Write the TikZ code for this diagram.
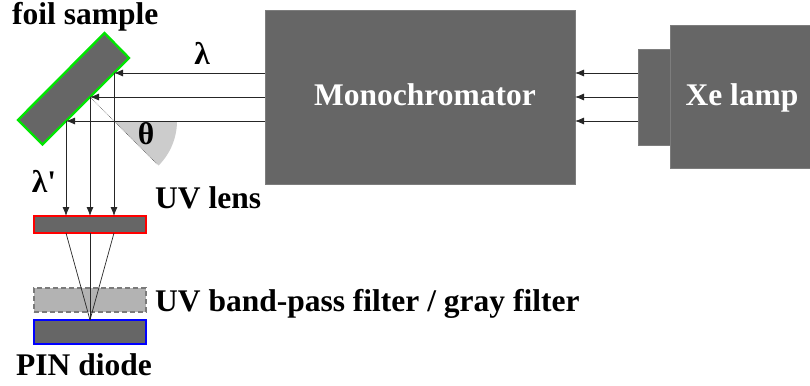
\documentclass[tikz,border=0pt]{standalone}
\usepackage{fontspec}
\setmainfont{Liberation Serif}
\newfontfamily\plainserif{Liberation Serif}
\usetikzlibrary{arrows.meta,positioning}
\definecolor{boxgray}{HTML}{666666}
\definecolor{wedgegray}{HTML}{CCCCCC}
\definecolor{filtergray}{HTML}{B3B3B3}
\definecolor{filteredge}{HTML}{7A7A7A}
\tikzset{
  x=1pt,y=-1pt,
  block/.style={fill=boxgray,draw=boxgray!85!white,line width=0.8pt,inner sep=0pt,outer sep=0pt,anchor=north west},
  plate/.style={block,minimum width=112pt,line width=2.2pt},
  ray/.style={draw=black!85,line width=0.8pt,-{Latex[length=9pt,width=7pt]}},
  rayplain/.style={draw=black!85,line width=0.7pt},
  lab/.style={font=\bfseries\fontsize{31.5}{32}\selectfont,inner sep=0pt,text=black},
  wlab/.style={lab,text=white},
}
\begin{document}
\begin{tikzpicture}
\useasboundingbox (0,0) rectangle (810,385);
% wedge
\fill[wedgegray] (114,121) -- (177,121) arc[start angle=0,end angle=45,radius=63] -- cycle;
% boxes
\node[block,minimum width=310pt,minimum height=174pt] (mono) at (265,10) {};
\node[block,minimum width=140pt,minimum height=143pt] (lamp) at (670,25) {};
\node[block,minimum width=32pt,minimum height=96pt] (port) at (638,49) {};
\node[wlab,anchor=base] at (425,106) {Monochromator};
\node[wlab,anchor=base] at (742,106) {Xe lamp};
% foil
\draw[fill=boxgray,draw=green!90!black,line width=2.4pt,line join=miter] (104.5,33) -- (129,58) -- (42.5,144.5) -- (18,120) -- cycle;
% plates
\node[plate,draw=red,minimum height=17pt] (lens) at (34,216) {};
\node[plate,fill=filtergray,draw=filteredge,line width=2.4pt,dash pattern=on 5pt off 3pt,minimum height=24pt] (filter) at (34,288) {};
\node[plate,draw=blue,minimum height=24pt] (diode) at (34,320) {};
% named points
\coordinate (h1) at (114,73);
\coordinate (h2) at (90,97);
\coordinate (h3) at (66,121);
\coordinate (m1) at (mono.west |- h1);
\coordinate (m2) at (mono.west |- h2);
\coordinate (m3) at (mono.west |- h3);
\coordinate (p1) at (port.west |- h1);
\coordinate (p2) at (port.west |- h2);
\coordinate (p3) at (port.west |- h3);
\coordinate (e1) at (mono.east |- h1);
\coordinate (e2) at (mono.east |- h2);
\coordinate (e3) at (mono.east |- h3);
\coordinate (l1) at (h1 |- lens.north);
\coordinate (l2) at (h2 |- lens.north);
\coordinate (l3) at (h3 |- lens.north);
\coordinate (b1) at (h1 |- lens.south);
\coordinate (b2) at (h2 |- lens.south);
\coordinate (b3) at (h3 |- lens.south);
\coordinate (wedgeend) at (157,164);
% rays
\draw[ray] (p1) -- (e1);
\draw[ray] (p2) -- (e2);
\draw[ray] (p3) -- (e3);
\draw[ray] (m1) -- (h1);
\draw[ray] (m2) -- (h2);
\draw[ray] (m3) -- (h3);
\draw[ray] (h1) -- (l1);
\draw[ray] (h2) -- (l2);
\draw[ray] (h3) -- (l3);
\draw[rayplain] (b1) -- (diode.north);
\draw[rayplain] (b2) -- (diode.north);
\draw[rayplain] (b3) -- (diode.north);
\draw[black!70,line width=0.6pt,densely dotted] (h2) -- (wedgeend);
% labels
\node[lab,anchor=base west] at (12,25) {foil sample};
\node[lab,anchor=base] at (202,65) {λ};
\node[lab,anchor=base] at (146,144) {θ};
\node[lab,anchor=base] at (44,192) {\plainserif λ'};
\node[lab,anchor=base west] at (155,208) {UV lens};
\node[lab,anchor=base west] at (155,311) {UV band-pass filter / gray filter};
\node[lab,anchor=base west] at (16,375) {PIN diode};
\end{tikzpicture}
\end{document}
